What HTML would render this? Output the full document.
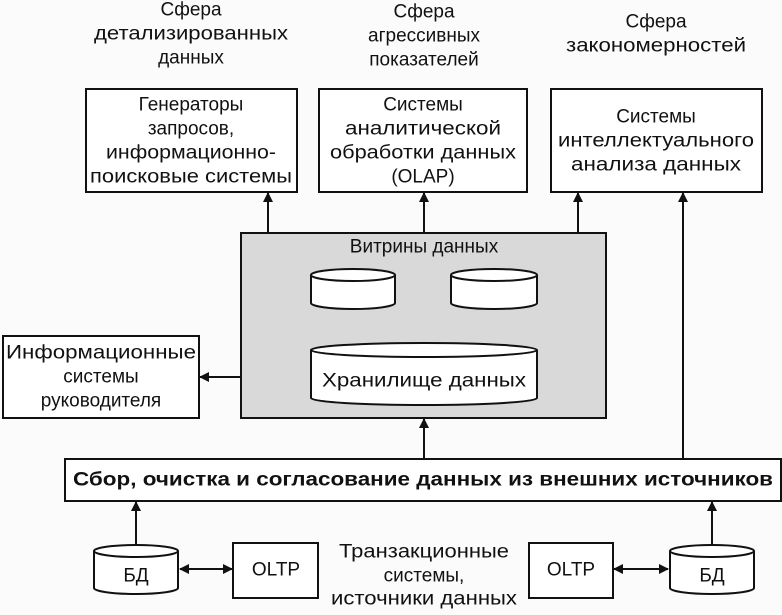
<!DOCTYPE html>
<html><head><meta charset="utf-8"><style>
html,body{margin:0;padding:0;background:#fbfbfb;}
svg text{font-family:"Liberation Sans",sans-serif;font-size:19px;fill:#111;text-anchor:middle;dominant-baseline:central;}
</style></head><body>
<svg width="782" height="610" viewBox="0 0 782 610" xmlns="http://www.w3.org/2000/svg">
<defs><marker id="a" viewBox="0 0 10 10" refX="9" refY="5" markerWidth="10" markerHeight="10" markerUnits="userSpaceOnUse" orient="auto-start-reverse"><path d="M0,0 L10,5 L0,10 z" fill="#111"/></marker></defs>
<g stroke="#111" stroke-width="2" fill="#fff">
<rect x="86" y="89" width="211" height="103"/>
<rect x="319" y="89" width="208" height="103"/>
<rect x="551" y="89" width="211" height="103"/>
<rect x="241" y="233" width="365" height="185" fill="#d9d9d9"/>
<rect x="3" y="336" width="196" height="82"/>
<rect x="65" y="459" width="716" height="42"/>
<rect x="233" y="543" width="85" height="55"/>
<rect x="529" y="543" width="84" height="55"/>
</g>
<g stroke="#111" stroke-width="2" fill="#fff">
<path d="M311,275 v28 a42,6 0 0 0 84,0 v-28"/><ellipse cx="353" cy="275" rx="42" ry="6"/>
<path d="M451,275 v28 a43,6 0 0 0 86,0 v-28"/><ellipse cx="494" cy="275" rx="43" ry="6"/>
<path d="M311,350 v48 a113,7 0 0 0 226,0 v-48"/><ellipse cx="424" cy="350" rx="113" ry="7"/>
<path d="M94,551 v37 a42,6 0 0 0 84,0 v-37"/><ellipse cx="136" cy="551" rx="42" ry="6"/>
<path d="M670,551 v37 a42,6 0 0 0 84,0 v-37"/><ellipse cx="712" cy="551" rx="42" ry="6"/>
</g>
<g stroke="#111" stroke-width="2" fill="none" marker-end="url(#a)">
<line x1="268" y1="233" x2="268" y2="193"/>
<line x1="424" y1="233" x2="424" y2="193"/>
<line x1="578" y1="233" x2="578" y2="193"/>
<line x1="683" y1="459" x2="683" y2="193"/>
<line x1="241" y1="377" x2="200" y2="377"/>
<line x1="424" y1="459" x2="424" y2="419"/>
<line x1="136" y1="545" x2="136" y2="502"/>
<line x1="712" y1="545" x2="712" y2="502"/>
<line x1="180" y1="569" x2="232" y2="569" marker-start="url(#a)"/>
<line x1="614" y1="569" x2="668" y2="569" marker-start="url(#a)"/>
</g>
<text x="191" y="10">Сфера</text><text x="191" y="34" textLength="194" lengthAdjust="spacingAndGlyphs">детализированных</text><text x="191" y="58">данных</text>
<text x="424" y="12">Сфера</text><text x="424" y="36">агрессивных</text><text x="424" y="60">показателей</text>
<text x="656" y="22">Сфера</text><text x="656" y="46" textLength="180" lengthAdjust="spacingAndGlyphs">закономерностей</text>
<text x="191" y="105">Генераторы</text><text x="191" y="129">запросов,</text><text x="191" y="153" textLength="170" lengthAdjust="spacingAndGlyphs">информационно-</text><text x="191" y="177" textLength="202" lengthAdjust="spacingAndGlyphs">поисковые системы</text>
<text x="423" y="105">Системы</text><text x="423" y="129" textLength="156" lengthAdjust="spacingAndGlyphs">аналитической</text><text x="423" y="153" textLength="186" lengthAdjust="spacingAndGlyphs">обработки данных</text><text x="423" y="177">(OLAP)</text>
<text x="656" y="117">Системы</text><text x="656" y="141" textLength="196" lengthAdjust="spacingAndGlyphs">интеллектуального</text><text x="656" y="165" textLength="170" lengthAdjust="spacingAndGlyphs">анализа данных</text>
<text x="424" y="247">Витрины данных</text>
<text x="424" y="381" textLength="204" lengthAdjust="spacingAndGlyphs">Хранилище данных</text>
<text x="101" y="353" textLength="190" lengthAdjust="spacingAndGlyphs">Информационные</text><text x="101" y="377">системы</text><text x="101" y="401">руководителя</text>
<text x="423" y="480" style="font-weight:bold" textLength="700" lengthAdjust="spacingAndGlyphs">Сбор, очистка и согласование данных из внешних источников</text>
<text x="136" y="576">БД</text><text x="712" y="576">БД</text>
<text x="276" y="570">OLTP</text><text x="571" y="570">OLTP</text>
<text x="424" y="552" textLength="170" lengthAdjust="spacingAndGlyphs">Транзакционные</text><text x="424" y="576">системы,</text><text x="424" y="599" textLength="186" lengthAdjust="spacingAndGlyphs">источники данных</text>
</svg>
</body></html>
